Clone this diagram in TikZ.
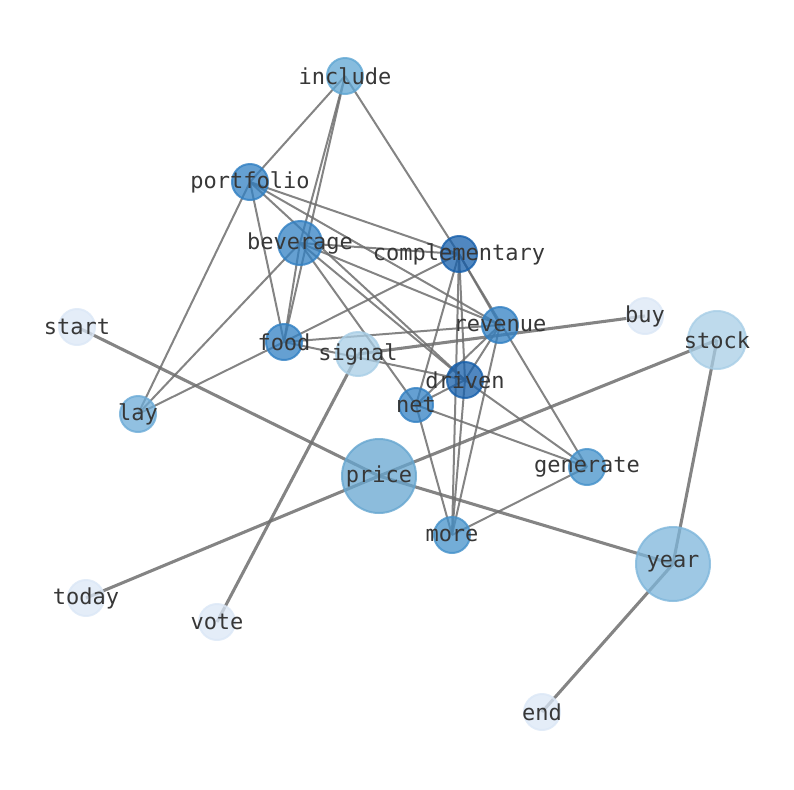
\documentclass[tikz,border=0pt]{standalone}
\usepackage{fontspec}
\newfontfamily\labfont{DejaVu Sans Mono}
\pgfdeclarelayer{bg}
\pgfdeclarelayer{fg}
\pgfsetlayers{bg,main,fg}
\definecolor{cdark}{RGB}{22,95,171}
\definecolor{cmed}{RGB}{49,128,195}
\definecolor{cmlt}{RGB}{68,145,202}
\definecolor{cincl}{RGB}{95,166,211}
\definecolor{cprice}{RGB}{102,166,208}
\definecolor{clay}{RGB}{108,171,215}
\definecolor{cyear}{RGB}{126,182,219}
\definecolor{cpale}{RGB}{168,206,230}
\definecolor{clight}{RGB}{219,231,246}
\definecolor{edgecol}{RGB}{110,110,110}
\definecolor{txtcol}{RGB}{55,55,55}
\tikzset{
  vert/.style={circle, inner sep=0pt, fill=#1, draw=#1, fill opacity=0.75, draw opacity=0.8, line width=1.5pt},
  lab/.style={font=\labfont\fontsize{16.5}{18}\selectfont, text=txtcol, inner sep=0pt, anchor=center},
  thin/.style={draw=edgecol, opacity=0.85, line width=1.5pt},
  thick/.style={draw=edgecol, opacity=0.85, line width=2.3pt}
}
\begin{document}
\begin{tikzpicture}[x=0.75pt,y=-0.75pt]
\useasboundingbox (0,0) rectangle (794,790);
% nodes: name, x, y, radius(px), colour
\foreach \n/\x/\y/\r/\c in {
  include/345/76/18/cincl,
  portfolio/250/182/18/cmed,
  beverage/300/243/22/cmed,
  complementary/459/254/18/cdark,
  revenue/500/325/18/cmed,
  buy/645/316/18/clight,
  stock/717/340/29/cpale,
  start/77/327/18/clight,
  food/284/342/18/cmed,
  signal/358/354/22/cpale,
  driven/465/380/18/cdark,
  net/416/405/17/cmed,
  lay/138/414/18/clay,
  price/379/476/37/cprice,
  generate/587/467/18/cmlt,
  more/452/535/18/cmlt,
  year/673/564/37/cyear,
  today/86/598/18/clight,
  vote/217/622/18/clight,
  end/542/712/18/clight}{
  \node[vert=\c, minimum size=2*\r*0.75pt] (\n) at (\x,\y) {};
  \begin{pgfonlayer}{fg}
  \node[lab] (lab-\n) at (\x,\y) {\n};
  \end{pgfonlayer}
}
\begin{pgfonlayer}{bg}
\foreach \a/\b in {
  include/portfolio, include/beverage, include/food, include/complementary,
  portfolio/complementary, portfolio/food, portfolio/lay, portfolio/revenue, portfolio/driven,
  beverage/complementary, beverage/revenue, beverage/driven, beverage/net, beverage/food, beverage/lay,
  complementary/food, complementary/revenue, complementary/generate, complementary/driven,
  complementary/more, complementary/net,
  food/revenue, food/driven, food/lay,
  revenue/driven, revenue/net, revenue/more,
  driven/net, driven/more, driven/generate,
  net/more, net/generate, more/generate}{
  \draw[thin] (\a.center) -- (\b.center);
}
\foreach \a/\b in {
  start/price, price/today, price/stock, price/year, signal/vote, signal/buy,
  year/stock, year/end}{
  \draw[thick] (\a.center) -- (\b.center);
}
\end{pgfonlayer}
\end{tikzpicture}
\end{document}
